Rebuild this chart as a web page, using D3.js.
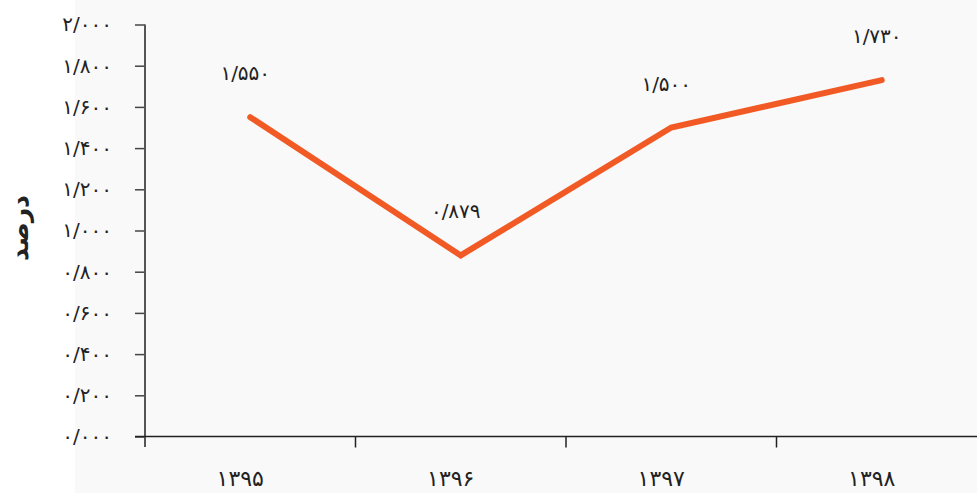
<!DOCTYPE html>
<html>
<head>
<meta charset="utf-8">
<script src="https://cdn.jsdelivr.net/npm/d3@7"></script>
<style>
  body { margin: 0; background: #fff; }
  svg { display: block; }
  text { font-family: "DejaVu Sans", sans-serif; fill: #222; }
</style>
</head>
<body>
<svg id="chart" width="977" height="493"></svg>
<script>
// data
const years = ["۱۳۹۵", "۱۳۹۶", "۱۳۹۷", "۱۳۹۸"];
const values = [1.55, 0.879, 1.5, 1.73];
const valueLabels = ["۱/۵۵۰", "۰/۸۷۹", "۱/۵۰۰", "۱/۷۳۰"];
const yTicks = [0, 0.2, 0.4, 0.6, 0.8, 1.0, 1.2, 1.4, 1.6, 1.8, 2.0];
const yTickLabels = ["۰/۰۰۰", "۰/۲۰۰", "۰/۴۰۰", "۰/۶۰۰", "۰/۸۰۰", "۱/۰۰۰",
  "۱/۲۰۰", "۱/۴۰۰", "۱/۶۰۰", "۱/۸۰۰", "۲/۰۰۰"];
const yTitle = "درصد";

const width = 977, height = 493;
const svg = d3.select("#chart");

svg.append("rect")
  .attr("x", 75).attr("y", 0)
  .attr("width", width - 75).attr("height", height)
  .attr("fill", "#f9f9f9");

const x = d3.scaleBand().domain(years).range([145, 987]);
const y = d3.scaleLinear().domain([0, 2]).range([436.5, 24.5]);

// y axis
const yAxis = svg.append("g")
  .attr("transform", "translate(145,0)")
  .call(d3.axisLeft(y).tickValues(yTicks).tickSize(10).tickPadding(23)
    .tickFormat((d, i) => yTickLabels[i]));
yAxis.select(".domain").remove();
yAxis.selectAll(".tick line").attr("stroke", "#444").attr("stroke-width", 1.5);
yAxis.selectAll(".tick text")
  .attr("font-size", 20).attr("direction", "ltr").attr("fill", "#222");
yAxis.append("line")
  .attr("x1", 0).attr("x2", 0)
  .attr("y1", y(2)).attr("y2", 447)
  .attr("stroke", "#555").attr("stroke-width", 2);

// x axis
const xg = svg.append("g");
xg.append("line")
  .attr("x1", 135).attr("x2", width)
  .attr("y1", y(0)).attr("y2", y(0))
  .attr("stroke", "#222").attr("stroke-width", 1.5);
xg.selectAll(".xtick")
  .data(years.slice(1))
  .join("line")
  .attr("class", "xtick")
  .attr("x1", (d) => x(d)).attr("x2", (d) => x(d))
  .attr("y1", y(0)).attr("y2", 447.5)
  .attr("stroke", "#222").attr("stroke-width", 1.5);
xg.selectAll(".xlabel")
  .data(years)
  .join("text")
  .attr("class", "xlabel")
  .attr("x", (d) => x(d) + x.bandwidth() / 2 - 10)
  .attr("y", 486)
  .attr("text-anchor", "middle")
  .attr("font-size", 22)
  .text((d) => d);

// y title
svg.append("text")
  .attr("transform", "translate(28,228) rotate(-90)")
  .attr("text-anchor", "middle")
  .attr("font-size", 25)
  .attr("font-weight", "bold")
  .text(yTitle);

// line
const pts = years.map((d, i) => [x(d) + x.bandwidth() / 2, y(values[i])]);
svg.append("path")
  .attr("d", d3.line()(pts))
  .attr("fill", "none")
  .attr("stroke", "#f15a24")
  .attr("stroke-width", 6)
  .attr("stroke-linecap", "round")
  .attr("stroke-linejoin", "miter");

// value labels
svg.selectAll(".vlabel")
  .data(pts)
  .join("text")
  .attr("class", "vlabel")
  .attr("x", (d) => d[0] - 5)
  .attr("y", (d) => d[1] - 37)
  .attr("text-anchor", "middle")
  .attr("direction", "ltr")
  .attr("font-size", 20)
  .text((d, i) => valueLabels[i]);
</script>
</body>
</html>
